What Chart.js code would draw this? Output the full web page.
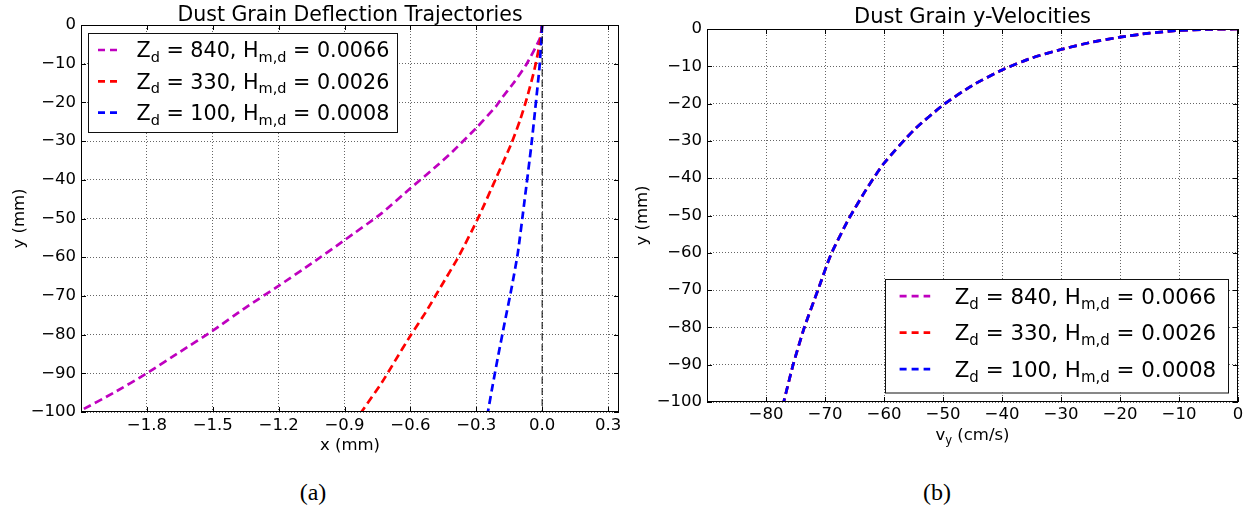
<!DOCTYPE html>
<html>
<head>
<meta charset="utf-8">
<script src="https://cdn.jsdelivr.net/npm/chart.js@4.4.0/dist/chart.umd.min.js"></script>
<style>
  html, body { margin: 0; padding: 0; background: #fff; }
  #wrap { position: relative; width: 1260px; height: 510px; overflow: hidden; background: #fff; }
  .panel { position: absolute; top: 0; width: 630px; height: 460px; }
  .caption {
    position: absolute; top: 479px; width: 80px; text-align: center;
    font-family: 'Liberation Serif', 'DejaVu Serif', serif; font-size: 24px; line-height: 26px;
  }
</style>
</head>
<body>
<div id="wrap">
  <div class="panel" style="left:0"><canvas id="trajChart" width="630" height="460"></canvas></div>
  <div class="panel" style="left:630px"><canvas id="velChart" width="630" height="460"></canvas></div>
  <div class="caption" style="left:273px">(a)</div>
  <div class="caption" style="left:897px">(b)</div>
</div>
<script>
// Grain parameters (legend)
const chargeNumbers = [840, 330, 100];
const hallParams = ['0.0066', '0.0026', '0.0008'];

// (a) deflection trajectories, x (mm) vs y (mm)
const traj840X = [0, -0.01, -0.07, -0.13, -0.18, -0.21, -0.30, -0.41, -0.49, -0.60, -0.73, -0.90, -1.05, -1.20, -1.35, -1.50, -1.65, -1.80, -1.95, -2.10];
const traj840Y = [0, -3.4, -10, -15, -18.6, -21, -26.6, -32.8, -36.9, -42.2, -48.6, -55.6, -61.6, -67.4, -73, -79, -84.5, -90, -95, -99.6];
const traj330X = [0, -0.01, -0.035, -0.07, -0.10, -0.14, -0.21, -0.29, -0.38, -0.46, -0.53, -0.60, -0.67, -0.73, -0.823];
const traj330Y = [0, -4.5, -11.5, -19, -24.5, -30.6, -39.6, -49.7, -59.8, -67.5, -74.2, -80.3, -86.8, -92.4, -100];
const traj100X = [0, -0.004, -0.012, -0.032, -0.050, -0.080, -0.111, -0.141, -0.171, -0.202, -0.225, -0.247];
const traj100Y = [0, -4, -10.8, -22, -31.5, -45.3, -59, -68.5, -77, -86, -93, -100];
const zeroLineX = [0, 0];
const zeroLineY = [0, -100];

// (b) y-velocity (cm/s) vs y (mm); the three grains overlap
const velocityVy = [0, -5, -10, -15, -20, -25, -30, -35, -40, -45, -50, -55, -60, -63, -66, -69, -71.2, -73.5, -75.4, -77];
const velocityY = [0, -0.1, -0.4, -1.1, -2.2, -3.6, -5.5, -7.8, -11, -15.1, -20.4, -27.2, -36, -43, -51, -60.5, -70, -80, -90, -100];

// Tick values
const trajXTicks = [-1.8, -1.5, -1.2, -0.9, -0.6, -0.3, 0.0, 0.3];
const velXTicks = [-80, -70, -60, -50, -40, -30, -20, -10, 0];
const depthTicks = [0, -10, -20, -30, -40, -50, -60, -70, -80, -90, -100];

const SERIES_COLORS = ['#bf00bf', '#ff0000', '#0000ff'];
const LINE_DASH = [8, 4.5];
const LEGEND_DASH = [7, 5];
const FONT = '"DejaVu Sans"';

const legendLabels = chargeNumbers.map((z, i) => `Z_d = ${z}, H_{m,d} = ${hallParams[i]}`);
const toPoints = (xs, ys) => xs.map((x, i) => ({ x, y: ys[i] }));
const minus = s => String(s).replace('-', '\u2212');

// split "a_b" / "a_{bc}" into plain and subscript runs
function parseRich(str) {
  const parts = [];
  let buf = '';
  for (let i = 0; i < str.length; i++) {
    if (str[i] !== '_') { buf += str[i]; continue; }
    if (buf) parts.push({ text: buf, sub: false });
    buf = '';
    if (str[i + 1] === '{') {
      const end = str.indexOf('}', i);
      parts.push({ text: str.slice(i + 2, end), sub: true });
      i = end;
    } else {
      parts.push({ text: str[i + 1], sub: true });
      i++;
    }
  }
  if (buf) parts.push({ text: buf, sub: false });
  return parts;
}

function drawRich(ctx, str, x, baseline, size, align) {
  const parts = parseRich(str);
  const fontFor = p => `${p.sub ? size * 0.7 : size}px ${FONT}`;
  let total = 0;
  parts.forEach(p => { ctx.font = fontFor(p); p.w = ctx.measureText(p.text).width; total += p.w; });
  let cx = align === 'center' ? x - total / 2 : x;
  ctx.textAlign = 'left';
  ctx.textBaseline = 'alphabetic';
  parts.forEach(p => {
    ctx.font = fontFor(p);
    ctx.fillText(p.text, cx, baseline + (p.sub ? size * 0.22 : 0));
    cx += p.w;
  });
}

// frame, inward ticks, titles, axis labels and the legend
function decorPlugin(cfg) {
  return {
    id: 'decor',
    afterDatasetsDraw(chart) {
      const { ctx, chartArea: a, scales } = chart;
      ctx.save();
      ctx.setLineDash([]);
      ctx.strokeStyle = '#000';
      ctx.lineWidth = 1;
      ctx.beginPath();
      scales.x.ticks.forEach(t => {
        const px = Math.round(scales.x.getPixelForValue(t.value)) + 0.5;
        ctx.moveTo(px, a.bottom); ctx.lineTo(px, a.bottom - 5);
        ctx.moveTo(px, a.top); ctx.lineTo(px, a.top + 5);
      });
      scales.y.ticks.forEach(t => {
        const py = Math.round(scales.y.getPixelForValue(t.value)) + 0.5;
        ctx.moveTo(a.left, py); ctx.lineTo(a.left + 5, py);
        ctx.moveTo(a.right, py); ctx.lineTo(a.right - 5, py);
      });
      ctx.stroke();
      ctx.strokeRect(a.left + 0.5, a.top + 0.5, a.right - a.left - 1, a.bottom - a.top - 1);

      // titles
      ctx.fillStyle = '#000';
      const midX = (a.left + a.right) / 2;
      ctx.font = `${cfg.titleSize}px ${FONT}`;
      ctx.textAlign = 'center';
      ctx.textBaseline = 'alphabetic';
      ctx.fillText(cfg.title, midX, cfg.titleBaseline);
      drawRich(ctx, cfg.xLabel, midX, cfg.xLabelBaseline, 16.5, 'center');
      ctx.save();
      ctx.translate(cfg.yLabelX, (a.top + a.bottom) / 2);
      ctx.rotate(-Math.PI / 2);
      drawRich(ctx, cfg.yLabel, 0, 0, 16.5, 'center');
      ctx.restore();

      // legend
      const lg = cfg.legend;
      ctx.fillStyle = '#fff';
      ctx.fillRect(lg.x, lg.y, lg.w, lg.h);
      ctx.strokeStyle = '#111';
      ctx.lineWidth = 1;
      ctx.strokeRect(lg.x + 0.5, lg.y + 0.5, lg.w, lg.h);
      legendLabels.forEach((label, i) => {
        const cy = lg.y + lg.firstRow + i * lg.rowGap;
        ctx.strokeStyle = SERIES_COLORS[i];
        ctx.lineWidth = 2.7;
        ctx.setLineDash(LEGEND_DASH);
        ctx.beginPath();
        ctx.moveTo(lg.x + lg.sampleX, cy);
        ctx.lineTo(lg.x + lg.sampleX + lg.sampleW, cy);
        ctx.stroke();
        ctx.setLineDash([]);
        ctx.fillStyle = '#000';
        drawRich(ctx, label, lg.x + lg.textX, cy + lg.font * 0.36, lg.font, 'left');
      });
      ctx.restore();
    }
  };
}

function curve(xs, ys, i, order) {
  return {
    data: toPoints(xs, ys),
    showLine: true,
    borderColor: SERIES_COLORS[i],
    borderWidth: 2.7,
    borderDash: LINE_DASH,
    pointRadius: 0,
    tension: 0.2,
    order,
  };
}

function scaleOptions(min, max, ticks, fmt, fitSize, axis, padding) {
  return {
    type: 'linear',
    min,
    max,
    afterBuildTicks: scale => { scale.ticks = ticks.map(v => ({ value: v })); },
    afterFit: scale => { if (axis === 'x') scale.height = fitSize; else scale.width = fitSize; },
    grid: { color: 'rgba(0,0,0,0.6)', lineWidth: 1, drawTicks: false },
    border: { display: false, dash: [1, 2] },
    ticks: {
      color: '#000',
      font: { family: 'DejaVu Sans', size: 16.5 },
      padding,
      autoSkip: false,
      maxRotation: 0,
      callback: fmt,
    },
  };
}

const baseOptions = {
  responsive: false,
  animation: false,
  events: [],
  plugins: { legend: { display: false }, tooltip: { enabled: false }, title: { display: false } },
};

new Chart(document.getElementById('trajChart'), {
  type: 'scatter',
  data: {
    datasets: [
      { data: toPoints(zeroLineX, zeroLineY), showLine: true, borderColor: '#000', borderWidth: 1,
        borderDash: [7, 4], pointRadius: 0, order: 0 },
      curve(traj100X, traj100Y, 2, 1),
      curve(traj330X, traj330Y, 1, 2),
      curve(traj840X, traj840Y, 0, 3),
    ],
  },
  options: {
    ...baseOptions,
    layout: { padding: { top: 25, right: 11, left: 0, bottom: 0 } },
    scales: {
      x: scaleOptions(-2.1, 0.35, trajXTicks, v => minus(v.toFixed(1)), 48, 'x', 3.5),
      y: scaleOptions(-100, 0, depthTicks, v => minus(v), 81, 'y', 5),
    },
  },
  plugins: [decorPlugin({
    title: 'Dust Grain Deflection Trajectories', titleSize: 20.5, titleBaseline: 20.5,
    xLabel: 'x (mm)', xLabelBaseline: 450, yLabel: 'y (mm)', yLabelX: 23.5,
    legend: { x: 88, y: 33, w: 309, h: 99, firstRow: 17, rowGap: 31.3, sampleX: 10, sampleW: 20.5, textX: 48.5, font: 20.7 },
  })],
});

new Chart(document.getElementById('velChart'), {
  type: 'scatter',
  data: {
    datasets: [
      curve(velocityVy, velocityY, 2, 1),
      curve(velocityVy, velocityY, 1, 2),
      curve(velocityVy, velocityY, 0, 3),
    ],
  },
  options: {
    ...baseOptions,
    layout: { padding: { top: 29, right: 22, left: 0, bottom: 0 } },
    scales: {
      x: scaleOptions(-90, 0, velXTicks, v => minus(v), 58, 'x', 3),
      y: scaleOptions(-100, 0, depthTicks, v => minus(v), 77, 'y', 5),
    },
  },
  plugins: [decorPlugin({
    title: 'Dust Grain y-Velocities', titleSize: 21, titleBaseline: 23,
    xLabel: 'v_y (cm/s)', xLabelBaseline: 440, yLabel: 'y (mm)', yLabelX: 17,
    legend: { x: 255, y: 279, w: 343, h: 113.5, firstRow: 17.2, rowGap: 36.5, sampleX: 14.6, sampleW: 30.6, textX: 69.7, font: 21.4 },
  })],
});
</script>
</body>
</html>
